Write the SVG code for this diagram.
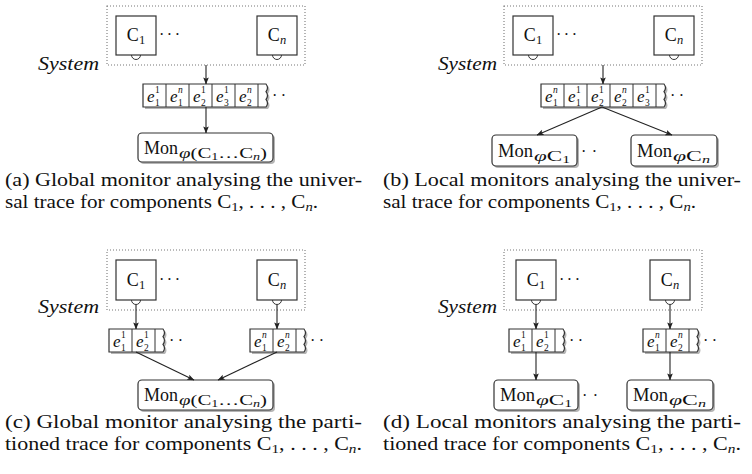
<svg xmlns="http://www.w3.org/2000/svg" width="752" height="474" viewBox="0 0 752 474" font-family="'Liberation Serif', 'Times New Roman', serif">
<defs>
<marker id="arr" viewBox="0 0 8 8" refX="7.5" refY="4" markerWidth="7" markerHeight="7" orient="auto" markerUnits="userSpaceOnUse">
<path d="M0,0.8 L8,4 L0,7.2 L1.6,4 Z" fill="#222"/>
</marker>
</defs>
<style>
text{font-family:'Liberation Serif','Times New Roman',serif;fill:#111}
.box{fill:#fff;stroke:#333;stroke-width:1.2}
.sys{fill:none;stroke:#777;stroke-width:1.1;stroke-dasharray:1 2}
.shd{fill:#b5b5b5}
.cell{fill:none;stroke:#333;stroke-width:1}
.edge{stroke:#222;stroke-width:1.1;fill:none;marker-end:url(#arr)}
.arc{fill:none;stroke:#333;stroke-width:1}
.cap{font-size:18px}
.big{font-size:18px}
.sub{font-size:12.5px}
.msub{font-size:14px}
.ss{font-size:9.5px}
.e{font-size:17px;font-style:italic}
.it{font-style:italic}
.dots{font-size:16px}
</style>

<!-- ===== Panel (a) ===== -->
<g id="a-system">
<rect class="sys" x="107" y="6" width="198" height="59"/>
<text class="big it" x="38" y="70" textLength="61" lengthAdjust="spacingAndGlyphs">System</text>
</g>
<g id="a-c1">
<rect class="box" x="116" y="16" width="40" height="39"/>
<path class="arc" d="M131.5,55 A4.5,4.5 0 0 0 140.5,55"/>
<text class="big" x="136" y="41" text-anchor="middle">C<tspan class="sub" dy="3">1</tspan></text>
<text class="dots" x="159" y="40" textLength="21" lengthAdjust="spacing">· · ·</text>
</g>
<g id="a-cn">
<rect class="box" x="257" y="16" width="40" height="39"/>
<path class="arc" d="M272.5,55 A4.5,4.5 0 0 0 281.5,55"/>
<text class="big" x="277" y="41" text-anchor="middle">C<tspan class="sub it" dy="3">n</tspan></text>
</g>
<g id="a-trace">
<path class="shd" d="M145,86 H268 q3,3.8 0,7.7 q3,3.8 0,7.7 q3,3.8 0,7.6 H145 Z"/>
<path class="box" d="M143,84 H266 q3,3.8 0,7.7 q3,3.8 0,7.7 q3,3.8 0,7.6 H143 Z"/>
<path class="cell" d="M166,84 V107 M189,84 V107 M212,84 V107 M235,84 V107 M258,84 V107"/>
<text class="e" x="147" y="102">e</text><text class="ss" x="155" y="93">1</text><text class="ss" x="155" y="106">1</text>
<text class="e" x="170" y="102">e</text><text class="ss it" x="178" y="93">n</text><text class="ss" x="178" y="106">1</text>
<text class="e" x="193" y="102">e</text><text class="ss" x="201" y="93">1</text><text class="ss" x="201" y="106">2</text>
<text class="e" x="216" y="102">e</text><text class="ss" x="224" y="93">1</text><text class="ss" x="224" y="106">3</text>
<text class="e" x="239" y="102">e</text><text class="ss it" x="247" y="93">n</text><text class="ss" x="247" y="106">2</text>
<text class="dots" x="272" y="100.5" textLength="14" lengthAdjust="spacing">· ·</text>
</g>
<g id="a-mon">
<rect class="shd" x="140" y="135" width="135" height="29" rx="4"/>
<rect class="box" x="138" y="133" width="135" height="29" rx="4"/>
<text class="big" x="144" y="154" textLength="34" lengthAdjust="spacingAndGlyphs">Mon</text>
<text class="msub" x="179" y="158" textLength="88" lengthAdjust="spacingAndGlyphs"><tspan class="it">φ</tspan>(C<tspan class="ss" dy="2">1</tspan><tspan dy="-2">…C</tspan><tspan class="ss it" dy="2">n</tspan><tspan dy="-2">)</tspan></text>
</g>
<text class="cap" x="5" y="186" textLength="357" lengthAdjust="spacingAndGlyphs">(a) Global monitor analysing the univer-</text>
<text class="cap" x="5" y="208" textLength="313" lengthAdjust="spacingAndGlyphs">sal trace for components C<tspan class="sub" dy="3">1</tspan><tspan dy="-3">, . . . , C</tspan><tspan class="sub it" dy="3">n</tspan><tspan dy="-3">.</tspan></text>

<!-- ===== Panel (b) ===== -->
<g id="b-system">
<rect class="sys" x="504" y="6" width="198" height="59"/>
<text class="big it" x="438" y="70" textLength="59" lengthAdjust="spacingAndGlyphs">System</text>
</g>
<g id="b-c1">
<rect class="box" x="513" y="16" width="40" height="39"/>
<path class="arc" d="M528.5,55 A4.5,4.5 0 0 0 537.5,55"/>
<text class="big" x="533" y="41" text-anchor="middle">C<tspan class="sub" dy="3">1</tspan></text>
<text class="dots" x="556" y="40" textLength="21" lengthAdjust="spacing">· · ·</text>
</g>
<g id="b-cn">
<rect class="box" x="654" y="16" width="40" height="39"/>
<path class="arc" d="M669.5,55 A4.5,4.5 0 0 0 678.5,55"/>
<text class="big" x="674" y="41" text-anchor="middle">C<tspan class="sub it" dy="3">n</tspan></text>
</g>
<g id="b-trace">
<path class="shd" d="M543,86 H666 q3,3.8 0,7.7 q3,3.8 0,7.7 q3,3.8 0,7.6 H543 Z"/>
<path class="box" d="M541,84 H664 q3,3.8 0,7.7 q3,3.8 0,7.7 q3,3.8 0,7.6 H541 Z"/>
<path class="cell" d="M564,84 V107 M587,84 V107 M610,84 V107 M633,84 V107 M656,84 V107"/>
<text class="e" x="545" y="102">e</text><text class="ss it" x="553" y="93">n</text><text class="ss" x="553" y="106">1</text>
<text class="e" x="568" y="102">e</text><text class="ss" x="576" y="93">1</text><text class="ss" x="576" y="106">1</text>
<text class="e" x="591" y="102">e</text><text class="ss" x="599" y="93">1</text><text class="ss" x="599" y="106">2</text>
<text class="e" x="614" y="102">e</text><text class="ss it" x="622" y="93">n</text><text class="ss" x="622" y="106">2</text>
<text class="e" x="637" y="102">e</text><text class="ss" x="645" y="93">1</text><text class="ss" x="645" y="106">3</text>
<text class="dots" x="670" y="100.5" textLength="14" lengthAdjust="spacing">· ·</text>
</g>
<g id="b-mon1">
<rect class="shd" x="494" y="137" width="85" height="31" rx="4"/>
<rect class="box" x="492" y="135" width="85" height="31" rx="4"/>
<text class="big" x="498" y="157" textLength="35" lengthAdjust="spacingAndGlyphs">Mon</text>
<text class="msub" x="534" y="161" textLength="36" lengthAdjust="spacingAndGlyphs"><tspan class="it">φ</tspan>C<tspan class="ss" dy="2">1</tspan></text>
</g>
<text class="dots" x="581" y="156.5" textLength="16" lengthAdjust="spacing">· ·</text>
<g id="b-monn">
<rect class="shd" x="633" y="137" width="86" height="31" rx="4"/>
<rect class="box" x="631" y="135" width="86" height="31" rx="4"/>
<text class="big" x="637" y="157" textLength="35" lengthAdjust="spacingAndGlyphs">Mon</text>
<text class="msub" x="673" y="161" textLength="37" lengthAdjust="spacingAndGlyphs"><tspan class="it">φ</tspan>C<tspan class="ss it" dy="2">n</tspan></text>
</g>
<text class="cap" x="383" y="186" textLength="358" lengthAdjust="spacingAndGlyphs">(b) Local monitors analysing the univer-</text>
<text class="cap" x="383" y="208" textLength="313" lengthAdjust="spacingAndGlyphs">sal trace for components C<tspan class="sub" dy="3">1</tspan><tspan dy="-3">, . . . , C</tspan><tspan class="sub it" dy="3">n</tspan><tspan dy="-3">.</tspan></text>

<!-- ===== Panel (c) ===== -->
<g id="c-system">
<rect class="sys" x="107" y="250" width="198" height="60"/>
<text class="big it" x="38" y="313" textLength="61" lengthAdjust="spacingAndGlyphs">System</text>
</g>
<g id="c-c1">
<rect class="box" x="116" y="260" width="40" height="40"/>
<path class="arc" d="M131.5,300 A4.5,4.5 0 0 0 140.5,300"/>
<text class="big" x="136" y="286" text-anchor="middle">C<tspan class="sub" dy="3">1</tspan></text>
<text class="dots" x="159" y="285" textLength="21" lengthAdjust="spacing">· · ·</text>
</g>
<g id="c-cn">
<rect class="box" x="257" y="260" width="40" height="40"/>
<path class="arc" d="M272.5,300 A4.5,4.5 0 0 0 281.5,300"/>
<text class="big" x="277" y="286" text-anchor="middle">C<tspan class="sub it" dy="3">n</tspan></text>
</g>
<g id="c-trace1">
<path class="shd" d="M111,331 H165 q3,3.8 0,7.7 q3,3.8 0,7.7 q3,3.8 0,7.6 H111 Z"/>
<path class="box" d="M109,329 H163 q3,3.8 0,7.7 q3,3.8 0,7.7 q3,3.8 0,7.6 H109 Z"/>
<path class="cell" d="M132,329 V352 M155,329 V352"/>
<text class="e" x="113" y="347">e</text><text class="ss" x="121" y="338">1</text><text class="ss" x="121" y="351">1</text>
<text class="e" x="136" y="347">e</text><text class="ss" x="144" y="338">1</text><text class="ss" x="144" y="351">2</text>
<text class="dots" x="169" y="345.5" textLength="14" lengthAdjust="spacing">· ·</text>
</g>
<g id="c-trace2">
<path class="shd" d="M252,331 H306 q3,3.8 0,7.7 q3,3.8 0,7.7 q3,3.8 0,7.6 H252 Z"/>
<path class="box" d="M250,329 H304 q3,3.8 0,7.7 q3,3.8 0,7.7 q3,3.8 0,7.6 H250 Z"/>
<path class="cell" d="M273,329 V352 M296,329 V352"/>
<text class="e" x="254" y="347">e</text><text class="ss it" x="262" y="338">n</text><text class="ss" x="262" y="351">1</text>
<text class="e" x="277" y="347">e</text><text class="ss it" x="285" y="338">n</text><text class="ss" x="285" y="351">2</text>
<text class="dots" x="310" y="345.5" textLength="14" lengthAdjust="spacing">· ·</text>
</g>
<g id="c-mon">
<rect class="shd" x="140" y="382" width="135" height="30" rx="4"/>
<rect class="box" x="138" y="380" width="135" height="30" rx="4"/>
<text class="big" x="144" y="401" textLength="34" lengthAdjust="spacingAndGlyphs">Mon</text>
<text class="msub" x="179" y="405" textLength="88" lengthAdjust="spacingAndGlyphs"><tspan class="it">φ</tspan>(C<tspan class="ss" dy="2">1</tspan><tspan dy="-2">…C</tspan><tspan class="ss it" dy="2">n</tspan><tspan dy="-2">)</tspan></text>
</g>
<text class="cap" x="5" y="428" textLength="357" lengthAdjust="spacingAndGlyphs">(c) Global monitor analysing the parti-</text>
<text class="cap" x="5" y="450" textLength="357" lengthAdjust="spacingAndGlyphs">tioned trace for components C<tspan class="sub" dy="3">1</tspan><tspan dy="-3">, . . . , C</tspan><tspan class="sub it" dy="3">n</tspan><tspan dy="-3">.</tspan></text>

<!-- ===== Panel (d) ===== -->
<g id="d-system">
<rect class="sys" x="504" y="250" width="198" height="60"/>
<text class="big it" x="438" y="313" textLength="59" lengthAdjust="spacingAndGlyphs">System</text>
</g>
<g id="d-c1">
<rect class="box" x="516" y="260" width="40" height="40"/>
<path class="arc" d="M531.5,300 A4.5,4.5 0 0 0 540.5,300"/>
<text class="big" x="536" y="286" text-anchor="middle">C<tspan class="sub" dy="3">1</tspan></text>
<text class="dots" x="559" y="285" textLength="21" lengthAdjust="spacing">· · ·</text>
</g>
<g id="d-cn">
<rect class="box" x="650" y="260" width="40" height="40"/>
<path class="arc" d="M665.5,300 A4.5,4.5 0 0 0 674.5,300"/>
<text class="big" x="670" y="286" text-anchor="middle">C<tspan class="sub it" dy="3">n</tspan></text>
</g>
<g id="d-trace1">
<path class="shd" d="M511,331 H565 q3,3.8 0,7.7 q3,3.8 0,7.7 q3,3.8 0,7.6 H511 Z"/>
<path class="box" d="M509,329 H563 q3,3.8 0,7.7 q3,3.8 0,7.7 q3,3.8 0,7.6 H509 Z"/>
<path class="cell" d="M532,329 V352 M555,329 V352"/>
<text class="e" x="513" y="347">e</text><text class="ss" x="521" y="338">1</text><text class="ss" x="521" y="351">1</text>
<text class="e" x="536" y="347">e</text><text class="ss" x="544" y="338">1</text><text class="ss" x="544" y="351">2</text>
<text class="dots" x="569" y="345.5" textLength="14" lengthAdjust="spacing">· ·</text>
</g>
<g id="d-trace2">
<path class="shd" d="M645,331 H699 q3,3.8 0,7.7 q3,3.8 0,7.7 q3,3.8 0,7.6 H645 Z"/>
<path class="box" d="M643,329 H697 q3,3.8 0,7.7 q3,3.8 0,7.7 q3,3.8 0,7.6 H643 Z"/>
<path class="cell" d="M666,329 V352 M689,329 V352"/>
<text class="e" x="647" y="347">e</text><text class="ss it" x="655" y="338">n</text><text class="ss" x="655" y="351">1</text>
<text class="e" x="670" y="347">e</text><text class="ss it" x="678" y="338">n</text><text class="ss" x="678" y="351">2</text>
<text class="dots" x="703" y="345.5" textLength="14" lengthAdjust="spacing">· ·</text>
</g>
<g id="d-mon1">
<rect class="shd" x="496" y="382" width="84" height="30" rx="4"/>
<rect class="box" x="494" y="380" width="84" height="30" rx="4"/>
<text class="big" x="500" y="401" textLength="35" lengthAdjust="spacingAndGlyphs">Mon</text>
<text class="msub" x="536" y="405" textLength="36" lengthAdjust="spacingAndGlyphs"><tspan class="it">φ</tspan>C<tspan class="ss" dy="2">1</tspan></text>
</g>
<text class="dots" x="582" y="400.5" textLength="16" lengthAdjust="spacing">· ·</text>
<g id="d-monn">
<rect class="shd" x="629" y="382" width="86" height="30" rx="4"/>
<rect class="box" x="627" y="380" width="86" height="30" rx="4"/>
<text class="big" x="633" y="401" textLength="35" lengthAdjust="spacingAndGlyphs">Mon</text>
<text class="msub" x="669" y="405" textLength="37" lengthAdjust="spacingAndGlyphs"><tspan class="it">φ</tspan>C<tspan class="ss it" dy="2">n</tspan></text>
</g>
<text class="cap" x="383" y="428" textLength="358" lengthAdjust="spacingAndGlyphs">(d) Local monitors analysing the parti-</text>
<text class="cap" x="383" y="450" textLength="358" lengthAdjust="spacingAndGlyphs">tioned trace for components C<tspan class="sub" dy="3">1</tspan><tspan dy="-3">, . . . , C</tspan><tspan class="sub it" dy="3">n</tspan><tspan dy="-3">.</tspan></text>

<!-- ===== Connectors ===== -->
<g id="connectors">
<path class="edge" d="M206,65 V84"/>
<path class="edge" d="M206,107 V133"/>
<path class="edge" d="M603,65 V84"/>
<path class="edge" d="M602,107 L537,135"/>
<path class="edge" d="M602,107 L672,135"/>
<path class="edge" d="M136,305 V329"/>
<path class="edge" d="M277,305 V329"/>
<path class="edge" d="M136,352 L194,380"/>
<path class="edge" d="M277,352 L218,380"/>
<path class="edge" d="M536,305 V329"/>
<path class="edge" d="M670,305 V329"/>
<path class="edge" d="M536,352 V380"/>
<path class="edge" d="M670,352 V380"/>
</g>
</svg>
